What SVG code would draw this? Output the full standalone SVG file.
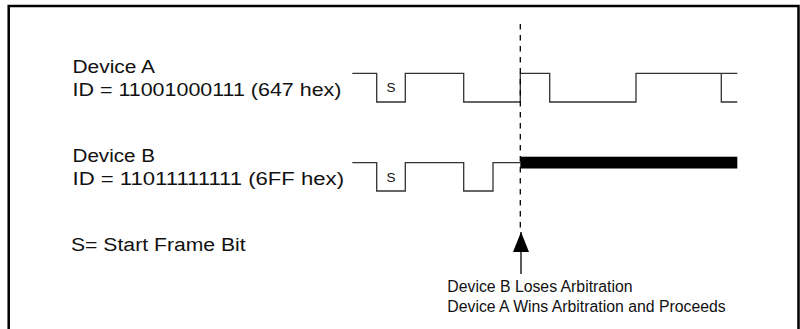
<svg xmlns="http://www.w3.org/2000/svg" width="800" height="329" viewBox="0 0 800 329">
<style>
.lbl{font-family:"Liberation Sans",Arial,sans-serif;font-size:18.8px;fill:#111}
.sm{font-family:"Liberation Sans",Arial,sans-serif;font-size:15.8px;fill:#111}
.s{font-family:"Liberation Sans",Arial,sans-serif;font-size:13.5px;fill:#111}
.wave{fill:none;stroke:#333;stroke-width:1.3}
</style>
<defs>
<marker id="arr" viewBox="0 0 20 16" refX="20" refY="8" markerWidth="20" markerHeight="16" markerUnits="userSpaceOnUse" orient="auto">
<path d="M0,0 L20,8 L0,16 Z" fill="#000"/>
</marker>
</defs>
<rect x="0" y="0" width="800" height="329" fill="#fff"/>
<path d="M8.7,335 V6 H798.5 V335" fill="none" stroke="#000" stroke-width="2.5"/>
<g id="deviceA">
<text class="lbl" x="72.5" y="73.3" textLength="82.5" lengthAdjust="spacingAndGlyphs">Device A</text>
<text class="lbl" x="72.5" y="95.7" textLength="269" lengthAdjust="spacingAndGlyphs">ID = 11001000111 (647 hex)</text>
<path class="wave" d="M352.3,73.3 H376.7 V102 H405.3 V73.3 H463.7 V102 H520.3 V73.3 H549.7 V102 H636 V73.3 H737.3 M721.3,73.3 V102 H737.3"/>
<text class="s" x="386.5" y="92">S</text>
</g>
<g id="deviceB">
<text class="lbl" x="72.5" y="162.3" textLength="82.5" lengthAdjust="spacingAndGlyphs">Device B</text>
<text class="lbl" x="72.5" y="184.7" textLength="271.5" lengthAdjust="spacingAndGlyphs">ID = 11011111111 (6FF hex)</text>
<path class="wave" d="M352.3,162.7 H376.7 V191 H405.3 V162.7 H463.7 V191 H493 V162.7 H520.3"/>
<rect x="520.3" y="156.7" width="217" height="11.8" fill="#000"/>
<text class="s" x="386.5" y="181.7">S</text>
</g>
<g id="legend">
<text class="lbl" x="71" y="250.7" textLength="174.7" lengthAdjust="spacingAndGlyphs">S= Start Frame Bit</text>
</g>
<g id="connectors">
<line x1="520.3" y1="24" x2="520.3" y2="232" stroke="#000" stroke-width="1.3" stroke-dasharray="5.5,5.5"/>
<line x1="521" y1="274" x2="521" y2="232" stroke="#000" stroke-width="1.3" marker-end="url(#arr)"/>
</g>
<g id="note">
<text class="sm" x="447.3" y="292.3">Device B Loses Arbitration</text>
<text class="sm" x="447.3" y="311.7">Device A Wins Arbitration and Proceeds</text>
</g>
</svg>
